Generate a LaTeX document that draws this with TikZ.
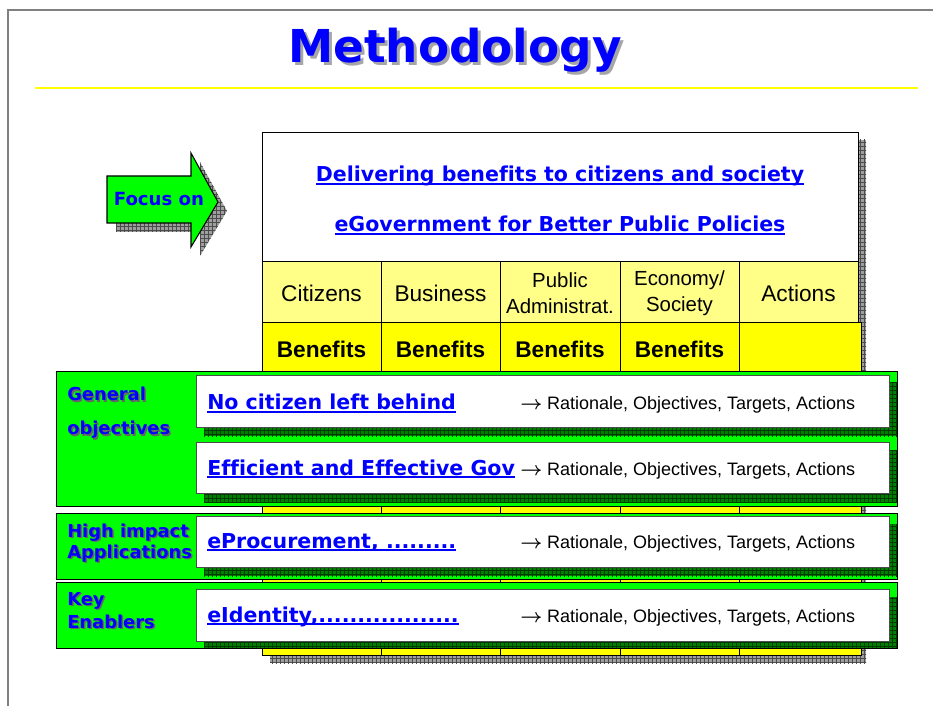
\documentclass[tikz,border=0pt]{standalone}
\usepackage{fontspec}
\setmainfont[Ligatures=NoCommon]{Liberation Sans}
\newfontfamily\verd[Ligatures=NoCommon]{DejaVu Sans}
\usetikzlibrary{patterns}
\definecolor{vblue}{RGB}{0,0,255}
\definecolor{vgreen}{RGB}{0,255,0}
\definecolor{dgreen}{RGB}{0,128,0}
\definecolor{lyellow}{RGB}{255,255,136}
\definecolor{vyellow}{RGB}{255,255,0}
\definecolor{framegray}{RGB}{128,128,128}
\newcommand\fs[2]{\fontsize{#1}{#2}\selectfont}
\newcommand\myul[1]{\setbox0=\hbox{#1}\rlap{\rule[-2.4pt]{\wd0}{1.3pt}}\box0}
\newcommand\rarr{{\fs{14}{16}\boldmath$\rightarrow$}\hspace{3.5pt}}
\tikzset{
  shadowgray/.style={preaction={fill=gray!75}, pattern=grid, pattern color=black!70},
  shadowgreen/.style={preaction={fill=dgreen}, pattern=grid, pattern color=black!55!dgreen},
  bluelink/.style={text=vblue, font=\verd\bfseries\fs{15.4}{18}, inner sep=0pt},
  bandlabel/.style={text=vblue, font=\verd\bfseries\fs{13.4}{16}, inner sep=0pt, anchor=base west},
  bandlabelsh/.style={text=black!60, font=\verd\bfseries\fs{13.4}{16}, inner sep=0pt, anchor=base west},
  ratio/.style={font=\fs{13.5}{16}, inner sep=0pt, anchor=base west},
  head/.style={font=\fs{17}{20}, inner sep=0pt, anchor=base},
  headtwo/.style={font=\fs{15.3}{19.5}, align=center, inner sep=0pt},
  benef/.style={font=\bfseries\fs{17}{20}, inner sep=0pt, anchor=base},
  cellbox/.style={draw=black, line width=0.6pt},
}
\begin{document}
\begin{tikzpicture}[x=0.75pt,y=-0.75pt]
\useasboundingbox (0,0) rectangle (933,706);
% frame
\draw[framegray, line width=1.5pt] (8,706) -- (8,10) -- (933,10);
% title
\node[text=black!35, font=\verd\bfseries\fs{34}{40}] (titlesh) at (458,53) {Methodology};
\node[text=vblue, font=\verd\bfseries\fs{34}{40}] (title) at (455,50) {Methodology};
\draw[vyellow, line width=1.2pt] (35,88) -- (918,88);
% focus arrow
\fill[shadowgray] (116,185) -- (200,185) -- (200,162) -- (227,211) -- (200,256) -- (200,232) -- (116,232) -- cycle;
\draw[fill=vgreen, line width=0.8pt] (107,176) -- (191,176) -- (191,153) -- (218,202) -- (191,247) -- (191,223) -- (107,223) -- cycle;
\node[text=vblue, font=\verd\bfseries\fs{13.6}{16}] (focus) at (159,199) {Focus on};
% table shadows
\fill[shadowgray] (858,140) rectangle (866,663);
\fill[shadowgray] (270,655) rectangle (866,663);
% table
\draw[cellbox, fill=white] (262,132) rectangle (858,261);
\draw[cellbox, fill=lyellow] (262,261) rectangle (858,322);
\draw[cellbox, fill=vyellow] (262,322) rectangle (861,655);
\foreach \cx in {381,500,620,739} {\draw[line width=0.6pt] (\cx,261) -- (\cx,655);}
\node[bluelink, anchor=base] (deliv) at (560,182) {\myul{Delivering benefits to citizens and society}};
\node[bluelink, anchor=base] (egov) at (560,232) {\myul{eGovernment for Better Public Policies}};
\node[head] (hcit) at (321.5,301) {Citizens};
\node[head] (hbus) at (440.5,301) {Business};
\node[headtwo] (hpub) at (560,293) {Public\\Administrat.};
\node[headtwo] (heco) at (679.5,293) {Economy/\\Society};
\node[head] (hact) at (798.5,301) {Actions};
\node[benef] (b1) at (321.5,358) {Benefits};
\node[benef] (b2) at (440.5,358) {Benefits};
\node[benef] (b3) at (560,358) {Benefits};
\node[benef] (b4) at (679.5,358) {Benefits};
% band 1
\draw[cellbox, fill=vgreen] (56,371) rectangle (897,506);
\fill[shadowgreen] (204,383) rectangle (897,436);
\draw[draw=black!70, line width=0.6pt, fill=white] (196,375) rectangle (889,427);
\fill[shadowgreen] (204,450) rectangle (897,502);
\draw[draw=black!70, line width=0.6pt, fill=white] (196,442) rectangle (889,493);
\node[bandlabelsh] (l1sh) at (68.5,402.5) {General};
\node[bandlabel] (l1) at (67,401) {General};
\node[bandlabelsh] (l2sh) at (68.5,436.5) {objectives};
\node[bandlabel] (l2) at (67,435) {objectives};
\node[bluelink, anchor=base west] (t1) at (207,410) {\myul{No citizen left behind}};
\node[ratio] (r1) at (520,410) {\rarr Rationale, Objectives, Targets, Actions};
\node[bluelink, anchor=base west] (t2) at (207,475) {\myul{Efficient and Effective Gov}};
\node[ratio] (r2) at (520,475) {\rarr Rationale, Objectives, Targets, Actions};
% band 2
\draw[cellbox, fill=vgreen] (56,513) rectangle (897,579);
\fill[shadowgreen] (204,524) rectangle (897,576);
\draw[draw=black!70, line width=0.6pt, fill=white] (196,516) rectangle (889,567);
\node[bandlabelsh] (l3sh) at (68.5,538.5) {High impact};
\node[bandlabel] (l3) at (67,537) {High impact};
\node[bandlabelsh] (l4sh) at (68.5,559.5) {Applications};
\node[bandlabel] (l4) at (67,558) {Applications};
\node[bluelink, anchor=base west] (t3) at (207,548) {\myul{eProcurement, .........}};
\node[ratio] (r3) at (520,548) {\rarr Rationale, Objectives, Targets, Actions};
% band 3
\draw[cellbox, fill=vgreen] (56,582) rectangle (897,648);
\fill[shadowgreen] (204,597) rectangle (897,648);
\draw[draw=black!70, line width=0.6pt, fill=white] (196,589) rectangle (889,641);
\draw[line width=0.6pt] (56,648) -- (897,648) -- (897,582);
\node[bandlabelsh] (l5sh) at (68.5,606.5) {Key};
\node[bandlabel] (l5) at (67,605) {Key};
\node[bandlabelsh] (l6sh) at (68.5,629.5) {Enablers};
\node[bandlabel] (l6) at (67,628) {Enablers};
\node[bluelink, anchor=base west] (t4) at (207,622) {\myul{eIdentity,..................}};
\node[ratio] (r4) at (520,622) {\rarr Rationale, Objectives, Targets, Actions};
\end{tikzpicture}
\end{document}
